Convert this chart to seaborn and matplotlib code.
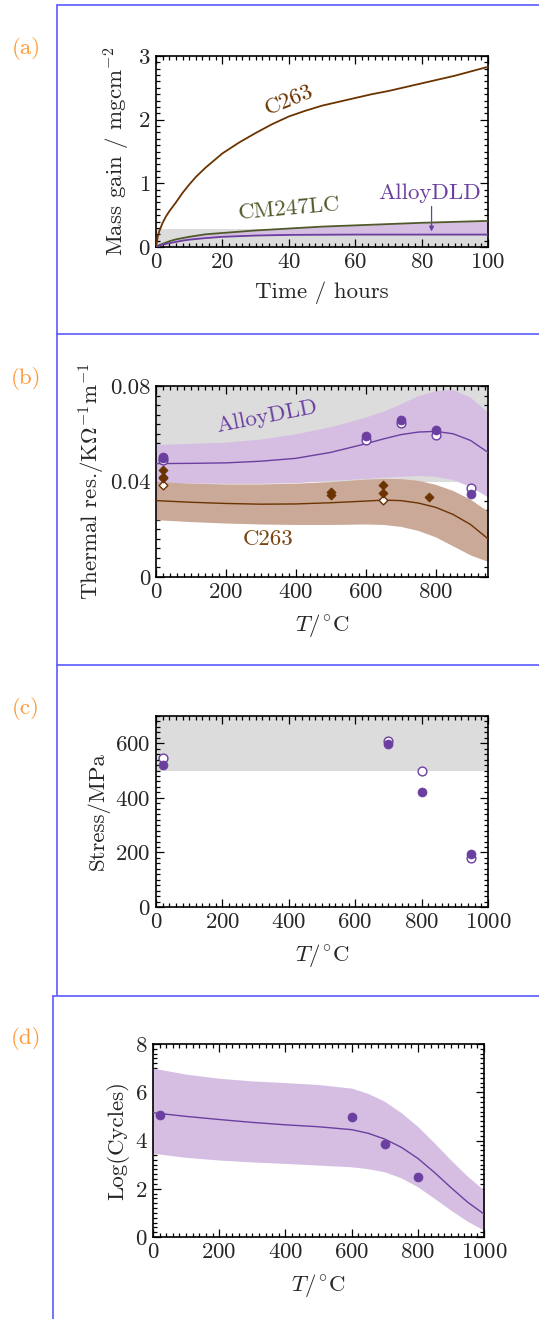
"""Four stacked panels: oxidation, thermal resistance, stress and cycles."""
import matplotlib
matplotlib.use("Agg")
import matplotlib.pyplot as plt
from matplotlib.lines import Line2D
from matplotlib.ticker import MultipleLocator
import seaborn as sns

# (a) mass gain vs time
t_c263 = [0, 0.5, 1, 2, 3, 4, 6, 8, 10, 12, 15, 20, 25, 30, 35, 40, 45, 50, 55, 60,
          65, 70, 75, 80, 85, 90, 95, 100]
m_c263 = [0, 0.16, 0.25, 0.38, 0.48, 0.56, 0.70, 0.85, 0.98, 1.10, 1.25, 1.47, 1.64,
          1.79, 1.93, 2.05, 2.14, 2.22, 2.28, 2.34, 2.40, 2.45, 2.51, 2.57, 2.63, 2.69,
          2.76, 2.83]
t_cm = [0, 1, 2, 4, 6, 8, 10, 15, 20, 30, 40, 50, 60, 70, 80, 90, 100]
m_cm = [0, 0.03, 0.05, 0.09, 0.12, 0.14, 0.16, 0.20, 0.22, 0.26, 0.29, 0.32, 0.34,
        0.36, 0.38, 0.395, 0.41]
m_dld = [0, 0.02, 0.04, 0.06, 0.08, 0.10, 0.115, 0.14, 0.16, 0.18, 0.19, 0.193,
         0.195, 0.195, 0.195, 0.195, 0.195]
grey_a = (0, 0.29)

# (b) thermal resistivity vs T
T_b = [0, 100, 200, 300, 400, 500, 600, 650, 700, 750, 800, 850, 900, 950]
dld_mean = [0.0475, 0.0476, 0.0478, 0.0485, 0.0497, 0.0522, 0.0558, 0.0578, 0.0596,
            0.0607, 0.0610, 0.0600, 0.0572, 0.0522]
dld_hi = [0.0555, 0.0560, 0.0565, 0.0578, 0.0600, 0.0630, 0.0670, 0.0695, 0.0725,
          0.0760, 0.0780, 0.0785, 0.0752, 0.0690]
dld_lo = [0.0398, 0.0393, 0.0392, 0.0392, 0.0395, 0.0405, 0.0413, 0.0418, 0.0422,
          0.0425, 0.0422, 0.0408, 0.0378, 0.0335]
c263_mean = [0.0320, 0.0313, 0.0308, 0.0305, 0.0306, 0.0311, 0.0318, 0.0322, 0.0320,
             0.0310, 0.0292, 0.0262, 0.0220, 0.0160]
c263_hi = [0.0400, 0.0393, 0.0390, 0.0390, 0.0393, 0.0400, 0.0410, 0.0413, 0.0412,
           0.0405, 0.0388, 0.0362, 0.0325, 0.0275]
c263_lo = [0.0240, 0.0232, 0.0226, 0.0222, 0.0220, 0.0220, 0.0222, 0.0220, 0.0212,
           0.0195, 0.0168, 0.0130, 0.0092, 0.0065]
grey_b = (0.04, 0.08)
dld_T_fill = [20, 20, 600, 700, 800, 900]
dld_k_fill = [0.0503, 0.0498, 0.0590, 0.0657, 0.0615, 0.0347]
dld_T_open = [20, 600, 700, 800, 900]
dld_k_open = [0.0492, 0.0573, 0.0647, 0.0593, 0.0371]
c263_T_fill = [20, 20, 20, 500, 500, 650, 650, 780]
c263_k_fill = [0.0448, 0.0420, 0.0413, 0.0354, 0.0345, 0.0385, 0.0350, 0.0333]
c263_T_open = [20, 650]
c263_k_open = [0.0385, 0.0322]

# (c) stress vs T
T_c_fill = [20, 700, 800, 950]
s_fill = [520, 596, 422, 195]
T_c_open = [20, 700, 800, 950]
s_open = [547, 608, 498, 178]
grey_c = (500, 700)

# (d) log cycles vs T
T_d = [0, 100, 200, 300, 400, 500, 600, 650, 700, 750, 800, 850, 900, 950, 1000]
cyc_mean = [5.15, 5.00, 4.87, 4.75, 4.65, 4.57, 4.45, 4.30, 4.06, 3.72, 3.26, 2.68,
            2.05, 1.45, 0.95]
cyc_hi = [7.00, 6.75, 6.58, 6.47, 6.40, 6.32, 6.17, 5.95, 5.62, 5.15, 4.58, 3.90,
          3.19, 2.52, 1.94]
cyc_lo = [3.47, 3.30, 3.19, 3.11, 3.05, 2.98, 2.91, 2.83, 2.70, 2.45, 2.08, 1.60,
          1.11, 0.65, 0.28]
T_d_pts = [20, 600, 700, 800]
cyc_pts = [5.05, 4.98, 3.84, 2.50]

PURPLE = "#6b3fa0"
LAVENDER = "#d5bee2"
BROWN = "#6b3300"
BROWN_TXT = "#7a4310"
TAN = "#caa998"
OLIVE = "#4f5a2a"
GREY = "#dcdcdc"
ORANGE = "#ff9933"
BLUE = "#5a5aff"

sns.set_style("ticks")
plt.rcParams["font.family"] = ["cmr10", "DejaVu Serif"]
plt.rcParams["mathtext.fontset"] = "cm"
plt.rcParams["axes.formatter.use_mathtext"] = True
plt.rcParams["axes.unicode_minus"] = False

FS = 16.5


def style_axes(ax, xmaj, xmin, ymaj, ymin):
    ax.xaxis.set_major_locator(MultipleLocator(xmaj))
    ax.xaxis.set_minor_locator(MultipleLocator(xmin))
    ax.yaxis.set_major_locator(MultipleLocator(ymaj))
    ax.yaxis.set_minor_locator(MultipleLocator(ymin))
    ax.tick_params(which="both", direction="in", top=True, right=True,
                   labelsize=FS, width=0.9, color="black")
    ax.tick_params(which="major", length=5.5, pad=4)
    ax.tick_params(which="minor", length=3)
    for s in ax.spines.values():
        s.set_linewidth(1.2)
        s.set_color("black")
        s.set_visible(True)


fig = plt.figure(figsize=(5.39, 13.19), dpi=100)
W, H = 539, 1319


def add_ax(left, top, width, height):
    return fig.add_axes([left / W, 1 - (top + height) / H, width / W, height / H])


# ---- (a)
ax = add_ax(156, 56, 332, 191)
ax.axhspan(*grey_a, color=GREY, lw=0, zorder=0)
ax.fill_between(t_cm, m_dld, m_cm, color=LAVENDER, lw=0, zorder=1)
sns.lineplot(x=t_c263, y=m_c263, color=BROWN, lw=1.3, ax=ax, zorder=3)
sns.lineplot(x=t_cm, y=m_cm, color=OLIVE, lw=1.3, ax=ax, zorder=3)
sns.lineplot(x=t_cm, y=m_dld, color=PURPLE, lw=1.3, ax=ax, zorder=3)
ax.text(40, 2.3, "C263", color=BROWN, fontsize=FS, rotation=22,
        ha="center", va="center")
ax.text(40, 0.6, "CM247LC", color=OLIVE, fontsize=FS, rotation=5,
        ha="center", va="center")
ax.text(82.5, 0.84, "AlloyDLD", color=PURPLE, fontsize=FS, ha="center", va="center")
ax.annotate("", xy=(83, 0.2), xytext=(83, 0.68),
            arrowprops=dict(arrowstyle="-|>", color=PURPLE, lw=0.9,
                            mutation_scale=7))
ax.set_xlim(0, 100)
ax.set_ylim(0, 3)
style_axes(ax, 20, 2, 1, 0.1)
ax.set_xlabel("Time / hours", fontsize=FS, labelpad=7)
ax.set_ylabel(r"Mass gain / mgcm$^{-2}$", fontsize=FS)

# ---- (b)
ax = add_ax(156, 386, 332, 191)
ax.axhspan(*grey_b, color=GREY, lw=0, zorder=0)
ax.fill_between(T_b, dld_lo, dld_hi, color=LAVENDER, lw=0, zorder=1)
ax.fill_between(T_b, c263_lo, c263_hi, color=TAN, lw=0, zorder=1)
sns.lineplot(x=T_b, y=dld_mean, color=PURPLE, lw=1.0, ax=ax, zorder=3)
sns.lineplot(x=T_b, y=c263_mean, color=BROWN, lw=1.0, ax=ax, zorder=3)
sns.scatterplot(x=dld_T_open, y=dld_k_open, marker="o", s=40, color="white",
                edgecolor=PURPLE, linewidth=1.0, ax=ax, zorder=4)
sns.scatterplot(x=dld_T_fill, y=dld_k_fill, marker="o", s=42, color=PURPLE,
                edgecolor=PURPLE, linewidth=0.5, ax=ax, zorder=5)
sns.scatterplot(x=c263_T_open, y=c263_k_open, marker="D", s=20, color="white",
                edgecolor=BROWN, linewidth=1.0, ax=ax, zorder=4)
sns.scatterplot(x=c263_T_fill, y=c263_k_fill, marker="D", s=22, color=BROWN,
                edgecolor=BROWN, linewidth=0.5, ax=ax, zorder=5)
ax.text(318, 0.067, "AlloyDLD", color=PURPLE, fontsize=FS, rotation=11,
        ha="center", va="center")
ax.text(322, 0.016, "C263", color=BROWN_TXT, fontsize=FS, ha="center", va="center")
ax.set_xlim(0, 950)
ax.set_ylim(0, 0.08)
style_axes(ax, 200, 20, 0.04, 0.004)
ax.set_yticks([0, 0.04, 0.08], ["0", "0.04", "0.08"])
ax.set_xlabel(r"$T/^{\circ}$C", fontsize=FS, labelpad=7)
ax.set_ylabel(r"Thermal res./K$\Omega^{-1}$m$^{-1}$", fontsize=FS, labelpad=2)

# ---- (c)
ax = add_ax(156, 716, 332, 191)
ax.axhspan(*grey_c, color=GREY, lw=0, zorder=0)
sns.scatterplot(x=T_c_open, y=s_open, marker="o", s=40, color="white",
                edgecolor=PURPLE, linewidth=1.0, ax=ax, zorder=4)
sns.scatterplot(x=T_c_fill, y=s_fill, marker="o", s=42, color=PURPLE,
                edgecolor=PURPLE, linewidth=0.5, ax=ax, zorder=5)
ax.set_xlim(0, 1000)
ax.set_ylim(0, 700)
style_axes(ax, 200, 20, 200, 20)
ax.set_xlabel(r"$T/^{\circ}$C", fontsize=FS, labelpad=7)
ax.set_ylabel("Stress/MPa", fontsize=FS)

# ---- (d)
ax = add_ax(153, 1044, 331, 193)
ax.fill_between(T_d, cyc_lo, cyc_hi, color=LAVENDER, lw=0, zorder=1)
sns.lineplot(x=T_d, y=cyc_mean, color=PURPLE, lw=1.0, ax=ax, zorder=3)
sns.scatterplot(x=T_d_pts, y=cyc_pts, marker="o", s=42, color=PURPLE,
                edgecolor=PURPLE, linewidth=0.5, ax=ax, zorder=5)
ax.set_xlim(0, 1000)
ax.set_ylim(0, 8)
style_axes(ax, 200, 20, 2, 0.2)
ax.set_xlabel(r"$T/^{\circ}$C", fontsize=FS, labelpad=7)
ax.set_ylabel("Log(Cycles)", fontsize=FS)

# panel letters
for lab, y in [("(a)", 48), ("(b)", 378), ("(c)", 708), ("(d)", 1038)]:
    fig.text(26 / W, 1 - y / H, lab, color=ORANGE, fontsize=FS,
             ha="center", va="center")

# blue frame lines
def px_line(x0, y0, x1, y1):
    fig.add_artist(Line2D([x0 / W, x1 / W], [1 - y0 / H, 1 - y1 / H],
                          color=BLUE, lw=1.2, transform=fig.transFigure))


px_line(57, 5, 539, 5)
px_line(57, 5, 57, 995)
px_line(57, 334, 539, 334)
px_line(57, 665, 539, 665)
px_line(53, 996, 539, 996)
px_line(53, 996, 53, 1319)

fig.savefig("out.png", dpi=100)
plt.close(fig)
